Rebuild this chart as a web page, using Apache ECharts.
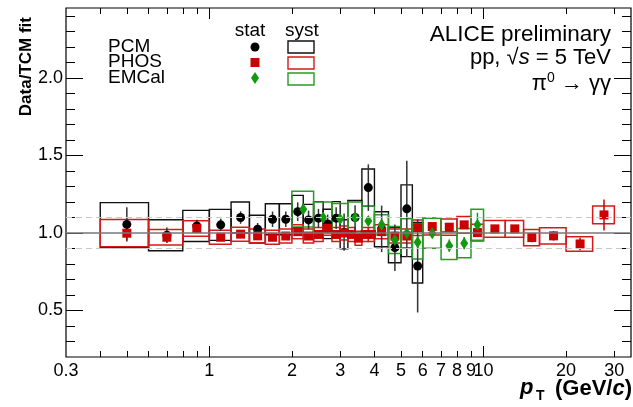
<!DOCTYPE html>
<html>
<head>
<meta charset="utf-8">
<script src="https://cdn.jsdelivr.net/npm/echarts@6/dist/echarts.min.js"></script>
<style>
  html, body { margin: 0; padding: 0; background: #fff; }
  #main { width: 633px; height: 407px; }
</style>
</head>
<body>
<div id="main"></div>
<script>
// ---- data (ratio Data / TCM fit) ----
const pcmEdges  = [0.4, 0.6, 0.8, 1.0, 1.2, 1.4, 1.6, 1.8, 2.0, 2.2, 2.4, 2.6, 2.8, 3.0, 3.2, 3.6, 4.0, 4.5, 5.0, 5.5, 6.0];
const pcmVal    = [1.055, 0.985, 1.045, 1.052, 1.099, 1.024, 1.088, 1.088, 1.137, 1.084, 1.095, 1.058, 1.095, 1.005, 1.099, 1.292, 1.026, 0.905, 1.155, 0.787];
const pcmStat   = [0.11, 0.05, 0.04, 0.04, 0.04, 0.04, 0.05, 0.05, 0.06, 0.06, 0.06, 0.06, 0.07, 0.12, 0.08, 0.15, 0.15, 0.15, 0.31, 0.3];
const pcmSystUp = [0.14, 0.1, 0.1, 0.1, 0.1, 0.09, 0.1, 0.1, 0.105, 0.1, 0.107, 0.095, 0.107, 0.08, 0.11, 0.12, 0.11, 0.13, 0.155, 0.28];
const pcmSystDn = [0.15, 0.1, 0.1, 0.1, 0.1, 0.09, 0.1, 0.1, 0.105, 0.1, 0.107, 0.095, 0.107, 0.108, 0.11, 0.12, 0.115, 0.097, 0.308, 0.11];

const phosEdges = [0.4, 0.6, 0.8, 1.0, 1.2, 1.4, 1.6, 1.8, 2.0, 2.2, 2.4, 2.6, 2.8, 3.0, 3.2, 3.4, 3.6, 3.8, 4.0, 4.5, 5.0, 5.5, 6.0, 7, 8, 9, 10, 12, 14, 16, 20, 25, 30];
const phosVal   = [0.998, 0.972, 1.028, 0.972, 0.992, 0.981, 0.972, 0.98, 1.008, 0.98, 0.99, 1.03, 0.99, 1.0, 0.99, 0.966, 0.99, 0.99, 1.008, 0.98, 0.98, 1.034, 1.041, 1.037, 1.052, 1.002, 1.026, 1.026, 0.97, 0.981, 0.929, 1.116];
const phosStat  = [0.045, 0.03, 0.02, 0.02, 0.02, 0.02, 0.02, 0.02, 0.02, 0.02, 0.02, 0.02, 0.02, 0.02, 0.02, 0.02, 0.02, 0.02, 0.02, 0.02, 0.02, 0.02, 0.02, 0.02, 0.02, 0.02, 0.02, 0.02, 0.03, 0.03, 0.04, 0.1];
const phosSyst  = [0.088, 0.05, 0.05, 0.045, 0.045, 0.045, 0.045, 0.045, 0.045, 0.045, 0.045, 0.045, 0.045, 0.045, 0.045, 0.045, 0.045, 0.045, 0.045, 0.045, 0.045, 0.05, 0.054, 0.052, 0.054, 0.054, 0.054, 0.054, 0.052, 0.052, 0.047, 0.057];

const emcEdges = [2.0, 2.4, 2.8, 3.2, 3.6, 4.0, 4.5, 5.0, 5.5, 6.0, 7, 8, 9, 10];
const emcVal   = [1.153, 1.099, 1.09, 1.1, 1.077, 1.052, 0.955, 0.998, 0.94, 0.998, 0.918, 0.934, 1.052];
const emcStat  = [0.03, 0.03, 0.03, 0.03, 0.03, 0.03, 0.03, 0.03, 0.04, 0.03, 0.04, 0.04, 0.078];
const emcSyst  = [0.115, 0.1, 0.1, 0.1, 0.095, 0.065, 0.087, 0.094, 0.108, 0.097, 0.089, 0.094, 0.1];

// ---- axis ticks ----
const xMin = 0.3, xMax = 34.5;
const yMin = 0.2, yMax = 2.45;
const xLabelValues = [0.3, 1, 2, 3, 4, 5, 6, 7, 8, 9, 10, 20, 30];
const xShortTicks = [0.4, 0.5, 0.6, 0.7, 0.8, 0.9, 2, 3, 4, 5, 6, 7, 8, 9, 20, 30];
const xLongTicks = [1, 10];
const yMajor = [0.5, 1.0, 1.5, 2.0];
const yMinor = [0.3, 0.4, 0.6, 0.7, 0.8, 0.9, 1.1, 1.2, 1.3, 1.4, 1.6, 1.7, 1.8, 1.9, 2.1, 2.2, 2.3, 2.4];
const refLine = 1.0;
const bandLines = [0.9, 1.1];

const RED = '#cc0000', GREEN = '#119911', BLACK = '#000';
const FONT = 'Liberation Sans';
const lg = Math.log10;

const chart = echarts.init(document.getElementById('main'));

function fmtX(v) {
  const r = Math.pow(10, v);
  return r < 1 ? r.toFixed(1) : String(Math.round(r));
}

function xAxis(pos, ticks, len, labels) {
  return {
    type: 'value', position: pos, min: lg(xMin), max: lg(xMax),
    axisLine: { show: false, onZero: false }, splitLine: { show: false },
    axisTick: { show: true, inside: true, length: len, customValues: ticks.map(lg),
      lineStyle: { color: BLACK, width: 1 } },
    axisLabel: labels ? {
      show: true, customValues: xLabelValues.map(lg), formatter: fmtX, margin: 5,
      color: BLACK, fontSize: 18, fontFamily: FONT
    } : { show: false }
  };
}

function yAxis(pos, ticks, len, labels) {
  return {
    type: 'value', position: pos, min: yMin, max: yMax,
    axisLine: { show: false, onZero: false }, splitLine: { show: false },
    axisTick: { show: true, inside: true, length: len, customValues: ticks,
      lineStyle: { color: BLACK, width: 1 } },
    axisLabel: labels ? {
      show: true, customValues: yMajor, formatter: v => v.toFixed(1), margin: 3,
      color: BLACK, fontSize: 18, fontFamily: FONT
    } : { show: false }
  };
}

// syst boxes: bin edges in x, [v - dn, v + up] in y
function boxSeries(edges, vals, up, dn, color, width) {
  return {
    type: 'custom', silent: true, z: 2,
    data: vals.map((v, i) => [lg(edges[i]), lg(edges[i + 1]), v - dn[i], v + up[i]]),
    renderItem: (params, api) => {
      const a = api.coord([api.value(0), api.value(3)]);
      const b = api.coord([api.value(1), api.value(2)]);
      return { type: 'rect',
        shape: { x: a[0], y: a[1], width: b[0] - a[0], height: b[1] - a[1] },
        style: { fill: 'none', stroke: color, lineWidth: width } };
    }
  };
}

function statSeries(edges, vals, stat, color) {
  return {
    type: 'custom', silent: true, z: 3,
    data: vals.map((v, i) => [lg((edges[i] + edges[i + 1]) / 2), v - stat[i], v + stat[i]]),
    renderItem: (params, api) => {
      const a = api.coord([api.value(0), api.value(1)]);
      const b = api.coord([api.value(0), api.value(2)]);
      return { type: 'line', shape: { x1: a[0], y1: a[1], x2: b[0], y2: b[1] },
        style: { stroke: color, lineWidth: 1.5 } };
    }
  };
}

function markerSeries(name, edges, vals, symbol, size, color) {
  return {
    name: name, type: 'scatter', z: 4, symbol: symbol, symbolSize: size,
    itemStyle: { color: color, opacity: 1 },
    data: vals.map((v, i) => [lg((edges[i] + edges[i + 1]) / 2), v])
  };
}

const T = (x, y, text, size, extra) => ({
  type: 'text', x: x, y: y, z: 10,
  style: Object.assign({ text: text, fill: BLACK, font: size + 'px "' + FONT + '"',
    align: 'left', verticalAlign: 'middle' }, extra || {})
});

const option = {
  animation: false,
  backgroundColor: '#fff',
  grid: { left: 66, right: 2, top: 8, bottom: 50, show: true,
    borderColor: BLACK, borderWidth: 1.2, backgroundColor: 'transparent' },
  xAxis: [
    xAxis('bottom', xShortTicks, 6, true),
    xAxis('bottom', xLongTicks, 11, false),
    xAxis('top', xShortTicks, 6, false),
    xAxis('top', xLongTicks, 11, false)
  ],
  yAxis: [
    yAxis('left', yMajor, 17, true),
    yAxis('left', yMinor, 9, false),
    yAxis('right', yMajor, 17, false),
    yAxis('right', yMinor, 9, false)
  ],
  series: [
    {
      type: 'scatter', data: [], z: 1, silent: true,
      markLine: {
        silent: true, symbol: 'none', label: { show: false },
        data: [
          { yAxis: refLine, lineStyle: { color: '#777', width: 1.5, type: 'solid' } },
          ...bandLines.map(v => ({ yAxis: v, lineStyle: { color: '#c8c8c8', width: 1.2, type: [6, 4] } }))
        ]
      }
    },
    boxSeries(pcmEdges, pcmVal, pcmSystUp, pcmSystDn, '#111', 1.4),
    boxSeries(phosEdges, phosVal, phosSyst, phosSyst, '#d41a1a', 1.5),
    boxSeries(emcEdges, emcVal, emcSyst, emcSyst, '#2a9a2a', 1.5),
    statSeries(pcmEdges, pcmVal, pcmStat, '#333'),
    statSeries(phosEdges, phosVal, phosStat, RED),
    statSeries(emcEdges, emcVal, emcStat, GREEN),
    markerSeries('PCM', pcmEdges, pcmVal, 'circle', 9, BLACK),
    markerSeries('PHOS', phosEdges, phosVal, 'rect', 9, RED),
    markerSeries('EMCal', emcEdges, emcVal, 'diamond', [8, 12], GREEN)
  ],
  graphic: [
    // legend table
    T(108, 47, 'PCM', 19), T(108, 62, 'PHOS', 19), T(108, 78, 'EMCal', 19),
    T(250, 31, 'stat', 19, { align: 'center' }), T(302, 31, 'syst', 19, { align: 'center' }),
    { type: 'circle', shape: { cx: 255, cy: 47, r: 4.5 }, style: { fill: BLACK }, z: 10 },
    { type: 'rect', shape: { x: 250.5, y: 58, width: 9, height: 9 }, style: { fill: RED }, z: 10 },
    { type: 'polygon', shape: { points: [[255, 72], [259, 78], [255, 84], [251, 78]] }, style: { fill: GREEN }, z: 10 },
    { type: 'rect', shape: { x: 288, y: 41, width: 26, height: 12 }, style: { fill: 'none', stroke: '#111', lineWidth: 1.4 }, z: 10 },
    { type: 'rect', shape: { x: 288, y: 57, width: 26, height: 12 }, style: { fill: 'none', stroke: '#d41a1a', lineWidth: 1.4 }, z: 10 },
    { type: 'rect', shape: { x: 288, y: 73, width: 26, height: 12 }, style: { fill: 'none', stroke: '#2a9a2a', lineWidth: 1.4 }, z: 10 },
    // header
    T(611, 35, 'ALICE preliminary', 22.5, { align: 'right' }),
    { type: 'text', x: 611, y: 58, z: 10, style: {
      text: '{n|pp, √}{i|s}{n| = 5 TeV}', align: 'right', verticalAlign: 'middle',
      rich: { n: { fontSize: 22, fontFamily: FONT, fill: BLACK },
              i: { fontSize: 22, fontFamily: FONT, fontStyle: 'italic', fill: BLACK } } } },
    { type: 'text', x: 611, y: 84, z: 10, style: {
      text: '{n|π}{s|0}{n| → γγ}', align: 'right', verticalAlign: 'middle',
      rich: { n: { fontSize: 22, fontFamily: FONT, fill: BLACK },
              s: { fontSize: 14, fontFamily: FONT, fill: BLACK, padding: [0, 0, 12, 0] } } } },
    // axis titles
    { type: 'text', x: 26, y: 17, rotation: Math.PI / 2, z: 10, style: {
      text: 'Data/TCM fit', fill: BLACK, font: 'bold 17px "' + FONT + '"',
      align: 'right', verticalAlign: 'middle' } },
    T(520, 388, 'p', 22, { font: 'italic bold 22px "' + FONT + '"' }),
    T(536, 396, 'T', 14, { font: 'bold 14px "' + FONT + '"' }),
    { type: 'text', x: 632, y: 389, z: 10, style: {
      text: '{b|(GeV/}{i|c}{b|)}', align: 'right', verticalAlign: 'middle',
      rich: { b: { fontSize: 22, fontWeight: 'bold', fontFamily: FONT, fill: BLACK },
              i: { fontSize: 22, fontWeight: 'bold', fontStyle: 'italic', fontFamily: FONT, fill: BLACK } } } }
  ]
};

chart.setOption(option);
</script>
</body>
</html>
